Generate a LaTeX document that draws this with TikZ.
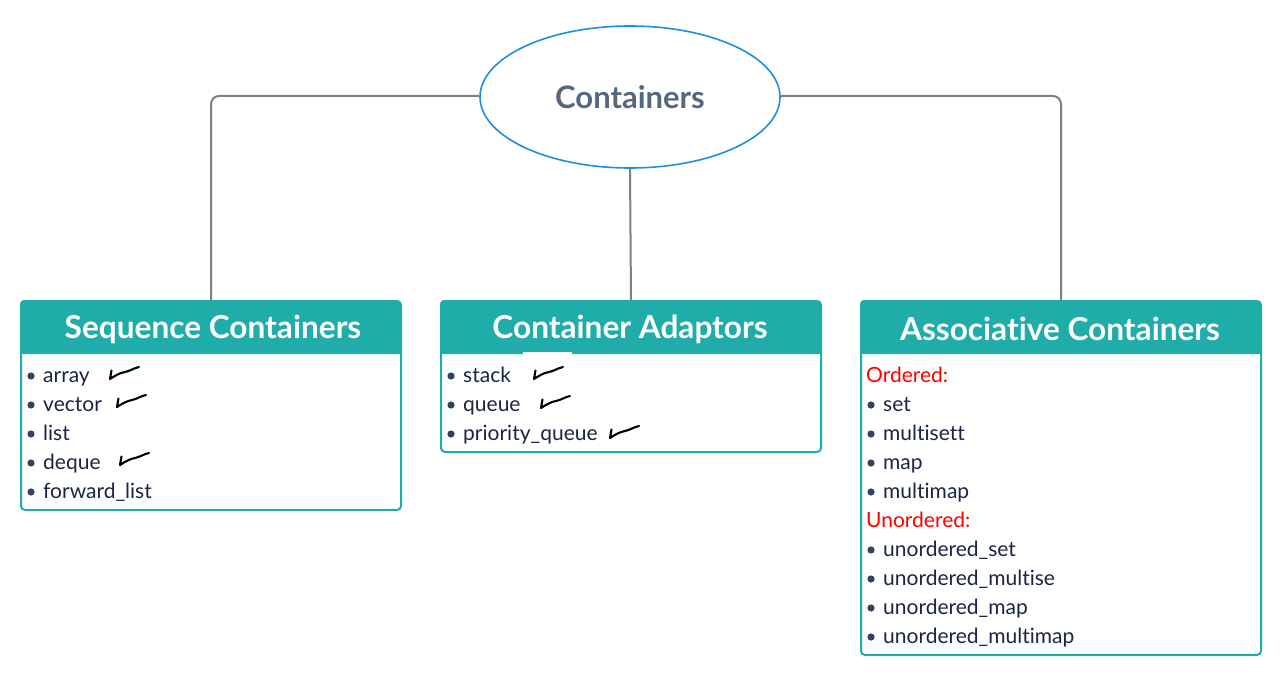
\documentclass[tikz,border=0pt]{standalone}
\usepackage{fontspec}
\setmainfont[Ligatures={NoCommon}]{Lato}
\usetikzlibrary{shapes.geometric}
\definecolor{hdrteal}{HTML}{20ADAA}
\definecolor{ellblue}{HTML}{1E8FE0}
\definecolor{conngrey}{HTML}{808080}
\definecolor{titlec}{HTML}{56687F}
\definecolor{itemc}{HTML}{1B2545}
\definecolor{bulletc}{HTML}{34425A}
\definecolor{redc}{HTML}{FF0000}
\tikzset{
  rootnode/.style={ellipse, draw=ellblue, line width=1.6pt, fill=white, minimum width=300pt, minimum height=142pt, inner sep=0pt, text=titlec, font=\fontsize{31}{31}\selectfont\bfseries},
  boxframe/.style={draw=hdrteal, line width=2pt, fill=white, rounded corners=4pt, anchor=north west, inner sep=0pt},
  hdrtext/.style={text=white, font=\fontsize{31.6}{31.6}\selectfont\bfseries, inner sep=0pt},
  itemtext/.style={text=itemc, font=\fontsize{21}{21}\selectfont, anchor=base west, inner sep=0pt},
  redtext/.style={text=redc, font=\fontsize{21}{21}\selectfont, anchor=base west, inner sep=0pt},
  conn/.style={draw=conngrey, line width=2pt, rounded corners=8pt},
  tickmark/.pic={\draw[black, line width=2.1pt, line cap=round, line join=round]
     (1.5,-8.5) -- (0,0) .. controls (6,-4) and (10,-6) .. (15,-7)
     .. controls (20,-8) and (24,-11) .. (29,-12);}
}
\newcommand{\bul}[2]{\fill[bulletc] (#1,#2) circle (3.6pt);}
\begin{document}
\begin{tikzpicture}[x=1pt,y=-1pt]
\useasboundingbox[fill=white] (0,0) rectangle (1280,674);

% boxes
\node[boxframe, minimum width=380pt, minimum height=209pt] (seq) at (20,300) {};
\node[boxframe, minimum width=380pt, minimum height=151pt] (ada) at (440,300) {};
\node[boxframe, minimum width=400pt, minimum height=354pt] (asc) at (860,300) {};

% headers
\fill[hdrteal, rounded corners=4pt] (20,300) rectangle (400,354);
\fill[hdrteal] (20,330) rectangle (400,354);
\fill[hdrteal, rounded corners=4pt] (440,300) rectangle (820,354);
\fill[hdrteal] (440,330) rectangle (820,354);
\fill[hdrteal, rounded corners=4pt] (860,300) rectangle (1260,354);
\fill[hdrteal] (860,330) rectangle (1260,354);
\fill[white] (523,352) rectangle (572,356);

\node[hdrtext] (seqt) at (213,329) {Sequence Containers};
\node[hdrtext] (adat) at (630,329) {Container Adaptors};
\node[hdrtext] (asct) at (1060,329) {Associative Containers};

% root
\node[rootnode] (root) at (630,97) {Containers};

% connectors
\draw[conn] ([yshift=1pt]root.west) -| (seq.north);
\draw[conn] ([yshift=1pt]root.east) -| (asc.north);
\draw[conn] (root.south) -- (ada.north);

% sequence items
\foreach \t [count=\i from 0] in {array,vector,list,deque,forward\_list}{
  \bul{31}{376+29*\i}
  \node[itemtext] (s\i) at (43,382+29*\i) {\t};
}
\pic at (110,379) {tickmark};
\pic at (117,407) {tickmark};
\pic at (120,465) {tickmark};

% adaptor items
\foreach \t [count=\i from 0] in {stack,queue,priority\_queue}{
  \bul{451}{376+29*\i}
  \node[itemtext] (a\i) at (463,382+29*\i) {\t};
}
\pic at (534,379) {tickmark};
\pic at (541,408) {tickmark};
\pic at (610,438) {tickmark};

% associative items
\node[redtext] (ord) at (866,382) {Ordered:};
\foreach \t [count=\i from 0] in {set,multisett,map,multimap}{
  \bul{871}{405+29*\i}
  \node[itemtext] (o\i) at (883,411+29*\i) {\t};
}
\node[redtext] (unord) at (866,527) {Unordered:};
\foreach \t [count=\i from 0] in {unordered\_set,unordered\_multise,unordered\_map,unordered\_multimap}{
  \bul{871}{550+29*\i}
  \node[itemtext] (u\i) at (883,556+29*\i) {\t};
}
\end{tikzpicture}
\end{document}
